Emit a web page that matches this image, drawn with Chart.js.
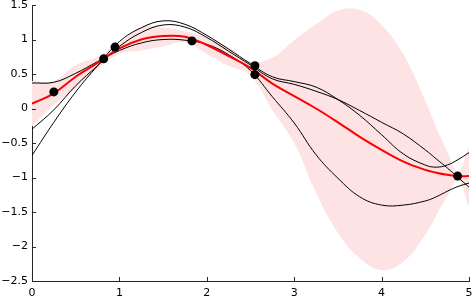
<!DOCTYPE html>
<html>
<head>
<meta charset="utf-8">
<script src="https://cdn.jsdelivr.net/npm/chart.js@4"></script>
<style>
  html, body { margin: 0; padding: 0; background: #fff; overflow: hidden; }
  canvas { display: block; }
</style>
</head>
<body>
<canvas id="gpChart" width="474" height="298"></canvas>
<script>
// sample locations along x
const xs = [0, 0.25, 0.5, 0.75, 1, 1.25, 1.5, 1.75, 2, 2.25, 2.5, 2.75, 3, 3.25, 3.5, 3.75, 4, 4.25, 4.5, 4.625, 4.75, 4.875, 5];

// posterior mean (red) and band edges (pink)
const meanY  = [0.07, 0.22, 0.46, 0.66, 0.87, 1.0, 1.05, 1.04, 0.92, 0.76, 0.59, 0.36, 0.18, 0.0, -0.2, -0.41, -0.6, -0.77, -0.89, -0.93, -0.96, -0.98, -0.98];
const upperY = [0.40, 0.40, 0.63, 0.75, 0.95, 1.18, 1.17, 1.12, 1.03, 0.89, 0.68, 0.74, 0.99, 1.22, 1.42, 1.43, 1.21, 0.78, 0.11, -0.27, -0.62, -0.92, -0.55];
const lowerY = [-0.26, 0.05, 0.29, 0.58, 0.79, 0.84, 0.9, 0.96, 0.79, 0.62, 0.48, -0.02, -0.5, -1.22, -1.8, -2.17, -2.34, -2.22, -1.83, -1.55, -1.27, -1.04, -1.43];

// three posterior samples (black)
const sampleA = [0.37, 0.38, 0.51, 0.68, 0.84, 0.95, 1.0, 0.99, 0.93, 0.78, 0.55, 0.17, -0.21, -0.67, -1.01, -1.28, -1.40, -1.40, -1.34, -1.28, -1.2, -1.13, -1.08];
const sampleB = [-0.3, -0.02, 0.33, 0.62, 0.9, 1.1, 1.21, 1.18, 1.03, 0.83, 0.63, 0.43, 0.35, 0.25, 0.13, -0.03, -0.2, -0.37, -0.6, -0.73, -0.86, -1.0, -1.14];
const sampleC = [-0.68, -0.2, 0.24, 0.62, 0.97, 1.17, 1.27, 1.22, 1.06, 0.86, 0.65, 0.46, 0.39, 0.31, 0.13, -0.1, -0.38, -0.66, -0.82, -0.85, -0.82, -0.74, -0.64];

// observations
const obsX = [0.25, 0.82, 0.95, 1.83, 2.55, 2.55, 4.87];
const obsY = [0.24, 0.72, 0.89, 0.98, 0.62, 0.49, -0.98];

const xTicks = [0, 1, 2, 3, 4, 5];
const yTicks = [-2.5, -2, -1.5, -1, -0.5, 0, 0.5, 1, 1.5];

const toPts = (ys) => ys.map((y, i) => ({x: xs[i], y: y}));
const fontSpec = {family: "'DejaVu Sans', sans-serif", size: 11};

// inward tick marks like the original plot
const innerTicks = {
    id: 'innerTicks',
    afterDraw(chart) {
        const ctx = chart.ctx;
        const xs_ = chart.scales.x, ys_ = chart.scales.y;
        const area = chart.chartArea;
        ctx.save();
        ctx.strokeStyle = '#262626';
        ctx.lineWidth = 1;
        ctx.beginPath();
        xTicks.forEach(v => {
            const px = Math.round(xs_.getPixelForValue(v)) + 0.5;
            ctx.moveTo(px, area.bottom);
            ctx.lineTo(px, area.bottom - 4);
        });
        yTicks.forEach(v => {
            const py = Math.round(ys_.getPixelForValue(v)) + 0.5;
            ctx.moveTo(area.left, py);
            ctx.lineTo(area.left + 4, py);
        });
        ctx.stroke();
        ctx.restore();
    }
};

new Chart(document.getElementById('gpChart'), {
    type: 'line',
    data: {
        datasets: [
            {
                label: 'data',
                data: obsX.map((x, i) => ({x: x, y: obsY[i]})),
                showLine: false,
                pointRadius: 4.5,
                pointBackgroundColor: '#000',
                pointBorderWidth: 0
            },
            {
                label: 'mean',
                data: toPts(meanY),
                borderColor: 'rgb(255,0,0)',
                borderWidth: 2,
                pointRadius: 0,
                tension: 0.4,
                fill: false
            },
            {
                label: 'sample A',
                data: toPts(sampleA),
                borderColor: '#000',
                borderWidth: 1,
                pointRadius: 0,
                tension: 0.4,
                fill: false
            },
            {
                label: 'sample B',
                data: toPts(sampleB),
                borderColor: '#000',
                borderWidth: 1,
                pointRadius: 0,
                tension: 0.4,
                fill: false
            },
            {
                label: 'sample C',
                data: toPts(sampleC),
                borderColor: '#000',
                borderWidth: 1,
                pointRadius: 0,
                tension: 0.4,
                fill: false
            },
            {
                label: 'lower',
                data: toPts(lowerY),
                borderWidth: 0,
                borderColor: 'rgba(0,0,0,0)',
                pointRadius: 0,
                tension: 0.4,
                fill: false
            },
            {
                label: 'upper',
                data: toPts(upperY),
                borderWidth: 0,
                borderColor: 'rgba(0,0,0,0)',
                backgroundColor: 'rgb(253,227,228)',
                pointRadius: 0,
                tension: 0.4,
                fill: '-1'
            }
        ]
    },
    options: {
        responsive: false,
        animation: false,
        devicePixelRatio: 1,
        layout: {padding: {top: 5, right: 5, left: 0, bottom: 0}},
        plugins: {
            legend: {display: false},
            tooltip: {enabled: false}
        },
        scales: {
            x: {
                type: 'linear',
                min: 0,
                max: 5,
                afterBuildTicks: (s) => { s.ticks = xTicks.map(v => ({value: v})); },
                afterFit: (s) => { s.height = 17; s.paddingLeft = 0; s.paddingRight = 0; },
                grid: {display: false, drawTicks: false},
                border: {display: true, color: '#262626', width: 1},
                ticks: {
                    color: '#000',
                    font: fontSpec,
                    padding: 6,
                    maxRotation: 0,
                    callback: (v) => String(v)
                }
            },
            y: {
                type: 'linear',
                min: -2.5,
                max: 1.5,
                afterBuildTicks: (s) => { s.ticks = yTicks.map(v => ({value: v})); },
                afterFit: (s) => { s.width = 32; s.paddingTop = 0; s.paddingBottom = 0; },
                grid: {display: false, drawTicks: false},
                border: {display: true, color: '#262626', width: 1},
                ticks: {
                    color: '#000',
                    font: fontSpec,
                    padding: 4,
                    callback: (v) => String(v).replace('-', '\u2212')
                }
            }
        }
    },
    plugins: [innerTicks]
});
</script>
</body>
</html>
